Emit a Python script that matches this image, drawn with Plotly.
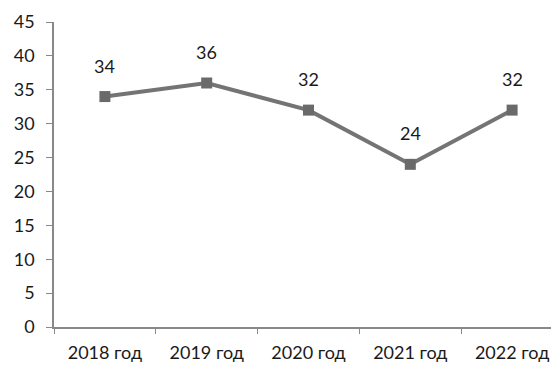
import plotly.graph_objects as go

categories = ["2018 год", "2019 год", "2020 год", "2021 год", "2022 год"]
values = [34, 36, 32, 24, 32]
y_ticks = [0, 5, 10, 15, 20, 25, 30, 35, 40, 45]

fig = go.Figure()
fig.add_trace(go.Scatter(
    x=categories, y=values, mode="lines+markers",
    line=dict(color="#747474", width=4),
    marker=dict(symbol="square", size=11, color="#6a6a6a"),
    showlegend=False,
))

for c, v in zip(categories, values):
    fig.add_annotation(x=c, y=v, text=str(v), showarrow=False,
                       yshift=31, font=dict(family="Lato, Open Sans, sans-serif", size=18, color="#1a1a1a"))

# page body has an 8px default margin, so the figure is offset by (8, 8)
fig.update_layout(
    width=559, height=367,
    margin=dict(l=46, r=4, t=14, b=48),
    paper_bgcolor="white", plot_bgcolor="white",
    font=dict(family="Lato, Open Sans, sans-serif", size=18, color="#1a1a1a"),
)
fig.update_xaxes(
    type="category", range=[-0.5, 4.5], tickson="boundaries",
    ticks="outside", ticklen=5, tickcolor="#888",
    showline=True, linecolor="#888", linewidth=1.5,
    showgrid=False, zeroline=False, automargin=False,
    tickfont=dict(size=18), ticklabelstandoff=9,
)
fig.update_yaxes(
    range=[0, 45], tickvals=y_ticks,
    ticks="outside", ticklen=6, tickcolor="#888",
    showline=True, linecolor="#888", linewidth=1.5,
    showgrid=False, zeroline=False, automargin=False,
    tickfont=dict(size=18), ticklabelstandoff=8,
)
fig.write_html("out.html")
